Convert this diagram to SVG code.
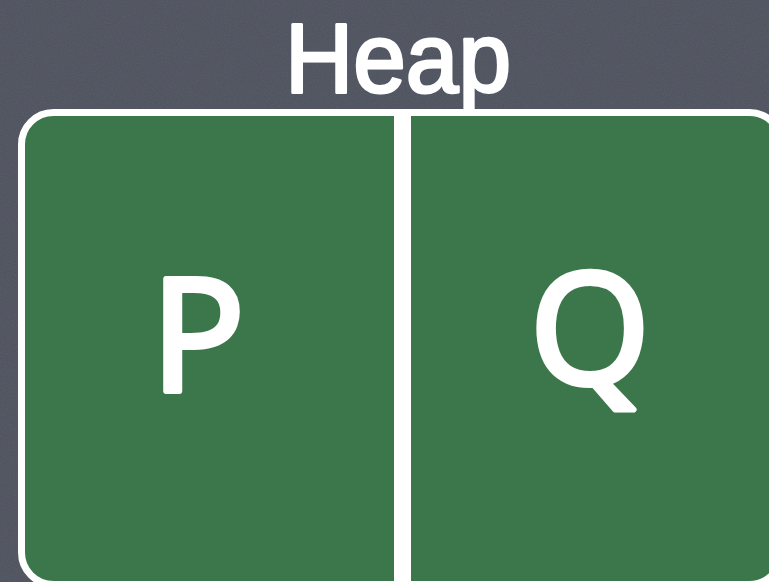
<svg xmlns="http://www.w3.org/2000/svg" width="769" height="582" viewBox="0 0 769 582">
<defs>
<filter id="chalk" x="0" y="0" width="100%" height="100%">
<feTurbulence type="fractalNoise" baseFrequency="0.9" numOctaves="2" seed="3" result="n"/>
<feColorMatrix in="n" type="matrix" values="0 0 0 0 1  0 0 0 0 1  0 0 0 0 1  0 0 0 0.08 0"/>
</filter>
</defs>
<style>
.lbl{font-family:"Open Sans","DejaVu Sans",sans-serif;fill:#ffffff;stroke:#ffffff;stroke-linejoin:round;stroke-linecap:round;}
.ttl{font-family:"Liberation Sans","Open Sans",sans-serif;}
</style>
<rect x="0" y="0" width="769" height="582" fill="#4c505c"/>
<rect x="0" y="0" width="769" height="582" filter="url(#chalk)"/>
<g id="heap-title">
<text class="lbl ttl" x="285" y="92" font-size="98" stroke-width="3" textLength="226" lengthAdjust="spacingAndGlyphs">Heap</text>
</g>
<g id="heap-box">
<rect x="21.5" y="112.5" width="760" height="472" rx="32" ry="32" fill="#3b774b" stroke="#ffffff" stroke-width="7"/>
</g>
<g id="connectors">
<rect x="394" y="112" width="17" height="470" fill="#ffffff"/>
</g>
<g id="node-p">
<text class="lbl" x="198" y="391" font-size="156" stroke-width="6" text-anchor="middle">P</text>
</g>
<g id="node-q">
<text class="lbl" x="590" y="384" font-size="154" stroke-width="6" text-anchor="middle">Q</text>
</g>
</svg>
